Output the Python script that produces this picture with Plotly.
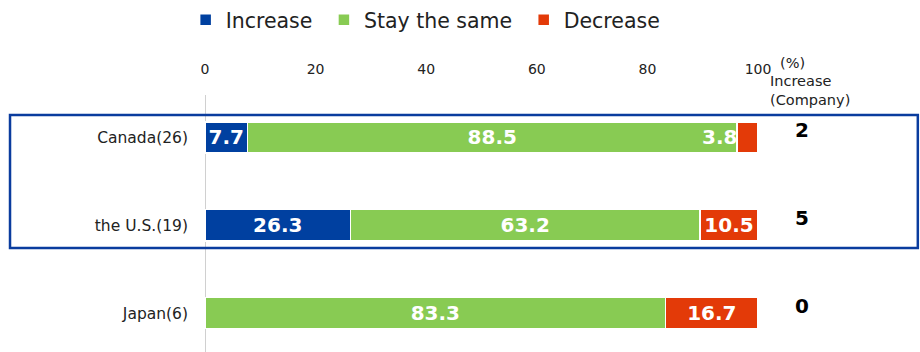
import plotly.graph_objects as go

# Data
categories = ["Canada(26)", "the U.S.(19)", "Japan(6)"]
increase = [7.7, 26.3, 0]
stay_same = [88.5, 63.2, 83.3]
decrease = [3.8, 10.5, 16.7]
company_increase = [2, 5, 0]
x_ticks = [0, 20, 40, 60, 80, 100]

BLUE = "#0040A0"
GREEN = "#88CB53"
RED = "#E33A08"
FONT = "DejaVu Sans"


def labels(values, skip=()):
    out = []
    for i, v in enumerate(values):
        out.append("" if v == 0 or i in skip else f"{v:.1f}")
    return out


fig = go.Figure()
series = [
    ("Increase", increase, BLUE, ()),
    ("Stay the same", stay_same, GREEN, ()),
    ("Decrease", decrease, RED, (0,)),  # 3.8 is too narrow, drawn as annotation
]
for name, vals, color, skip in series:
    fig.add_trace(go.Bar(
        name=name + "\u00a0",
        y=categories,
        x=vals,
        orientation="h",
        marker=dict(color=color, line=dict(color="white", width=1.5)),
        text=labels(vals, skip),
        textposition="inside",
        insidetextanchor="middle",
        constraintext="none",
        textfont=dict(family=FONT, size=20, color="white", weight="bold"),
        hoverinfo="x+name",
    ))

# label for the narrow Canada "Decrease" segment, placed inside the green bar
fig.add_annotation(
    x=increase[0] + stay_same[0], y=categories[0], xref="x", yref="y",
    text="3.8", showarrow=False, xanchor="right", xshift=2,
    font=dict(family=FONT, size=20, color="white", weight="bold"),
)

# Right column: number of companies answering "Increase"
for cat, n in zip(categories, company_increase):
    fig.add_annotation(
        x=1.096, y=cat, xref="paper", yref="y", text=str(n),
        showarrow=False, yshift=7,
        font=dict(family=FONT, size=20, color="black", weight="bold"),
    )

fig.add_annotation(x=1.036, y=1.163, xref="paper", yref="paper", text="(%)",
                   showarrow=False, xanchor="left",
                   font=dict(family=FONT, size=14.5, color="#222"))
fig.add_annotation(x=1.018, y=1.095, xref="paper", yref="paper",
                   text="Increase<br>(Company)", showarrow=False,
                   xanchor="left", align="left",
                   font=dict(family=FONT, size=14.5, color="#222"))

# blue frame around North America rows
fig.add_shape(type="rect", xref="paper", yref="paper",
              x0=-0.3526, x1=1.289, y0=0.4047, y1=0.922,
              line=dict(color="#0A3C9E", width=2.5))

fig.update_layout(
    barmode="stack",
    bargap=0.645,
    width=920, height=352,
    margin=dict(l=205, r=162, t=95, b=0),
    plot_bgcolor="white",
    paper_bgcolor="white",
    font=dict(family=FONT, size=14, color="#222"),
    legend=dict(orientation="h", x=-0.035, y=1.37, xanchor="left",
                yanchor="top", font=dict(size=20.5, color="#222"),
                traceorder="normal"),
    xaxis=dict(side="top", range=[0, 100], tickvals=x_ticks,
               showgrid=False, showline=False, zeroline=False,
               ticks="outside", ticklen=14, tickcolor="rgba(0,0,0,0)",
               tickfont=dict(size=14, color="#222"), fixedrange=True),
    yaxis=dict(range=[2.443, -0.483], showgrid=False, showline=False,
               zeroline=False, ticks="", ticklabelstandoff=16,
               tickfont=dict(size=15.5, color="#222"), fixedrange=True),
)

# vertical baseline at 0
fig.add_shape(type="line", xref="x", yref="paper", x0=0, x1=0, y0=0, y1=1,
              line=dict(color="#D0D0D0", width=2), layer="below")

fig.write_html("out.html", config={"displayModeBar": False},
               post_script="document.body.style.margin='0';")
